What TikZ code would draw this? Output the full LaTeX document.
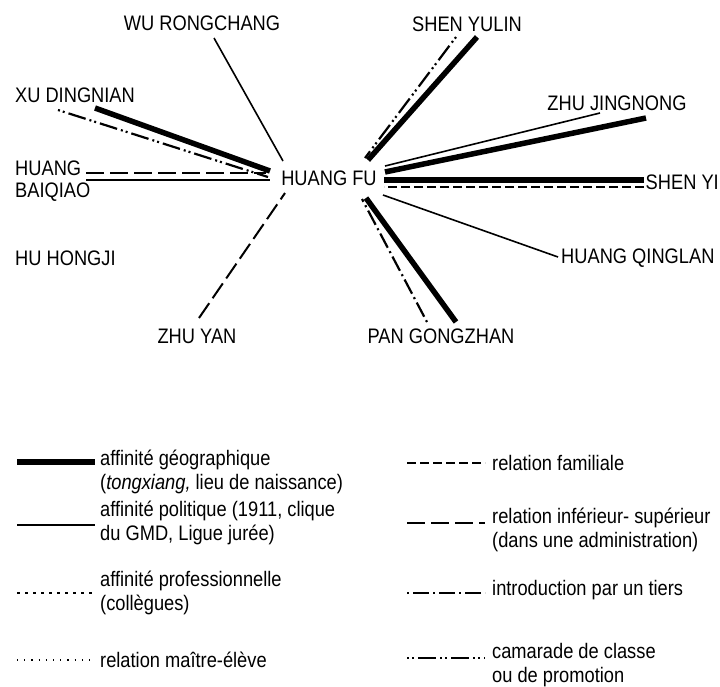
\documentclass[tikz,border=0pt]{standalone}
\usepackage{fontspec}
\setmainfont{Liberation Sans}[FakeStretch=0.87]
\usetikzlibrary{positioning}

\begin{document}
\begin{tikzpicture}[
  x = 1pt, y = -1pt,
  person/.style  = {inner sep=0pt, align=left,
                    font=\fontsize{21}{21.5}\selectfont},
  legtext/.style = {inner sep=0pt, align=left, anchor=west,
                    font=\fontsize{21}{23.5}\selectfont},
  geo/.style     = {line width=5.5pt},
  poli/.style    = {line width=1.6pt},
  prof/.style    = {line width=2.5pt, dash pattern=on 2.5pt off 5.5pt},
  maitre/.style  = {line width=1.2pt, dash pattern=on 1.2pt off 6pt},
  famil/.style   = {line width=2.5pt, dash pattern=on 9pt off 4pt},
  infsup/.style  = {line width=2pt, dash pattern=on 18pt off 6pt},
  intro/.style   = {line width=2.2pt, dash pattern=on 2pt off 4pt on 16pt off 4pt},
  camar/.style   = {line width=2.2pt, dash pattern=on 2pt off 3pt on 2pt off 4pt on 18pt off 4pt},
]
\useasboundingbox (0,0) rectangle (720,686);
% persons
\node[person] (hf)  at (329,178) {HUANG FU};
\node[person] (wu)  at (202,23)  {WU RONGCHANG};
\node[person] (syl) at (467,24)  {SHEN YULIN};
\node[person] (xu)  at (75,95)   {XU DINGNIAN};
\node[person] (zjn) at (617,103) {ZHU JINGNONG};
\node[person, anchor=west] (hbq) at (15,181)  {HUANG\\BAIQIAO};
\node[person, anchor=west] (hhj) at (15,258)  {HU HONGJI};
\node[person] (zy)  at (197,336) {ZHU YAN};
\node[person] (pan) at (441,336) {PAN GONGZHAN};
\node[person, anchor=west] (hql) at (561,258) {HUANG QINGLAN};
\node[person, anchor=east] (sy)  at (719,182) {SHEN YI};
% ends of the links
\foreach \n/\x/\y in {wu-a/214/38, wu-b/283/161,
                      xug-a/95/108, xug-b/270/171, xuc-a/58/110, xuc-b/268/177,
                      hbi-a/86/173, hbi-b/266/173, hbp-a/86/180, hbp-b/270/180,
                      zy-a/199/318, zy-b/285/193,
                      syg-a/477/37, syg-b/368/160, syc-a/456/37, syc-b/365/158,
                      zjp-a/600/113, zjp-b/385/166, zjg-a/646/118, zjg-b/385/172,
                      syig-a/644/180, syig-b/384/180, syif-a/644/187, syif-b/384/187,
                      hql-a/558/257, hql-b/383/195,
                      pang-a/456/322, pang-b/366/198, pani-a/427/322, pani-b/362/199}
  \coordinate (\n) at (\x,\y);
\foreach \s/\e in {poli/wu, geo/xug, camar/xuc, infsup/hbi, poli/hbp,
                   infsup/zy, geo/syg, camar/syc, poli/zjp, geo/zjg,
                   geo/syig, famil/syif, poli/hql, geo/pang, intro/pani}
  \draw[\s] (\e-a) -- (\e-b);
% legend
\node[legtext] (tgeo)    at (100,472) {affinité géographique\\(\textit{tongxiang,} lieu de naissance)};
\node[legtext] (tpoli)   at (100,523) {affinité politique (1911, clique\\du GMD, Ligue jurée)};
\node[legtext] (tprof)   at (100,593) {affinité professionnelle\\(collègues)};
\node[legtext] (tmaitre) at (100,660) {relation maître-élève};
\node[legtext] (tfamil)  at (492,463) {relation familiale};
\node[legtext] (tinfsup) at (492,530) {relation inférieur- supérieur\\(dans une administration)};
\node[legtext] (tintro)  at (492,590) {introduction par un tiers};
\node[legtext] (tcamar)  at (492,665) {camarade de classe\\ou de promotion};
\foreach \s/\x/\y in {geo/17/462, poli/17/525, prof/17/593, maitre/17/660,
                      famil/407/463, infsup/407/523, intro/407/593, camar/407/658}
{
  \coordinate (k\s-a) at (\x,\y);
  \coordinate (k\s-b) at (\x+78,\y);
  \draw[\s] (k\s-a) -- (k\s-b);
}
\end{tikzpicture}
\end{document}
